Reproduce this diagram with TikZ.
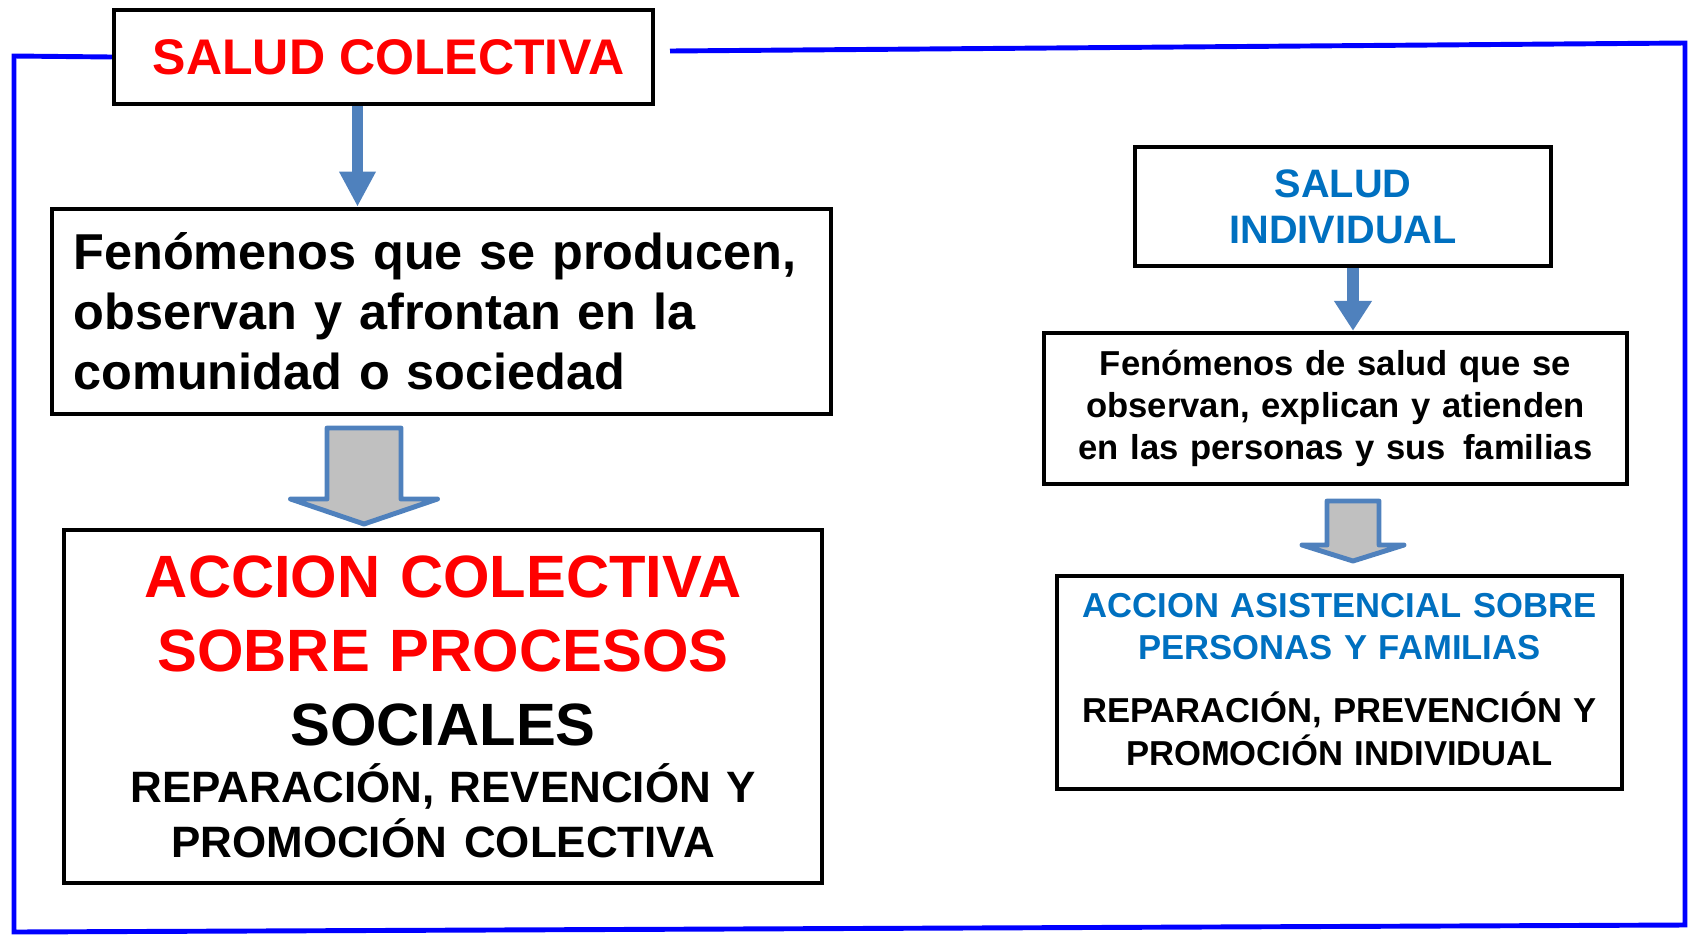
\documentclass[tikz,border=0pt]{standalone}
\usepackage{fontspec}
\setmainfont{Liberation Sans}
\usetikzlibrary{arrows.meta}
\definecolor{titlered}{RGB}{255,0,0}
\definecolor{textblue}{RGB}{0,112,192}
\definecolor{frameblue}{RGB}{0,0,255}
\definecolor{arrowblue}{RGB}{79,129,189}
\definecolor{arrowgray}{RGB}{192,192,192}
\newcommand\blockarrow[4]{% half shaft, shaft length, half head, head length
  ++(-#1,0) -- ++(0,#2) -- ++(#1-#3,0) -- ++(#3,#4) -- ++(#3,-#4)
  -- ++(#1-#3,0) -- ++(0,-#2) -- cycle
}

\begin{document}
\begin{tikzpicture}[x=0.02cm,y=-0.02cm,
    box/.style={draw=black,line width=2.6pt,fill=white,inner sep=0pt,font=\bfseries},
    frame/.style={draw=frameblue,line width=2.8pt},
    fillarrow/.style={draw=arrowblue,line width=6.3pt,-{Triangle[width=19.5pt,length=20pt]}},
    hollow/.style={draw=arrowblue,fill=arrowgray,line width=2.8pt,line join=round}]
		\useasboundingbox (0,0) rectangle (1688,941);

		\node[box,minimum width=10.78cm,minimum height=1.88cm,text=titlered,
		  font=\bfseries\fontsize{28.5}{34}\selectfont] (salcol) at (383.5,57) {\hspace*{6pt}SALUD COLECTIVA};
		\node[box,minimum width=15.58cm,minimum height=4.1cm,text width=419pt,align=left,
		  font=\bfseries\fontsize{28.7}{34.1}\selectfont] (fenleft) at (441.5,311.5)
		  {Fenómenos que se producen,\\observan y afrontan en la\\comunidad o sociedad};
		\node[box,minimum width=15.16cm,minimum height=7.06cm,text width=420pt,align=center,
		  font=\bfseries\fontsize{34}{42.1}\selectfont] (accleft) at (443,706.5)
		  {\color{titlered}ACCION COLECTIVA\\SOBRE PROCESOS\\
		   \color{black}SOCIALES\par\vspace{1.4pt}
		   \fontsize{25}{31.2}\selectfont\spaceskip=0pt REPARACIÓN, REVENCIÓN Y\\PROMOCIÓN COLECTIVA\par};

		\node[box,minimum width=8.32cm,minimum height=2.38cm,text width=200pt,align=center,text=textblue,
		  font=\bfseries\fontsize{22.6}{26.2}\selectfont] (salind) at (1343,206.5) {SALUD\\INDIVIDUAL};
		\node[box,minimum width=11.66cm,minimum height=3.02cm,text width=320pt,align=center,
		  font=\bfseries\fontsize{19.7}{23.9}\selectfont] (fenright) at (1335.5,408.5)
		  {Fenómenos de salud que se\\observan, explican y atienden\\en las personas y sus\hspace{0.5em}familias};
		\node[box,minimum width=11.3cm,minimum height=4.26cm,text width=310pt,align=center,
		  font=\bfseries\fontsize{19.7}{24.3}\selectfont] (accright) at (1339.5,682.5)
		  {\color{textblue}ACCION ASISTENCIAL SOBRE\\PERSONAS Y FAMILIAS\par
		   \vspace{11.5pt}\color{black}REPARACIÓN, PREVENCIÓN Y\\PROMOCIÓN INDIVIDUAL\par\vspace{3.5pt}};

		\coordinate (fTL) at (14,56);
		\coordinate (fBL) at (14,932);
		\coordinate (fBR) at (1685,925);
		\coordinate (fTR) at (1685,43);
		\coordinate (fTop) at (670,51);
		\draw[frame] (salcol.west) -- (fTL) -- (fBL) -- (fBR) -- (fTR) -- (fTop);

		\draw[fillarrow] ([xshift=-26*0.02cm]salcol.south) -- ([xshift=-26*0.02cm]salcol.south |- fenleft.north);
		\draw[fillarrow,-{Triangle[width=20.5pt,length=17pt]}] ([xshift=10*0.02cm]salind.south)
		  -- ([xshift=10*0.02cm]salind.south |- fenright.north);

		\coordinate (bigarrow) at (364,428);
		\coordinate (smallarrow) at (1353,501);
		\draw[hollow] (bigarrow) \blockarrow{37}{71}{73.5}{25};
		\draw[hollow] (smallarrow) \blockarrow{26}{44}{51}{16};
	\end{tikzpicture}
\end{document}
